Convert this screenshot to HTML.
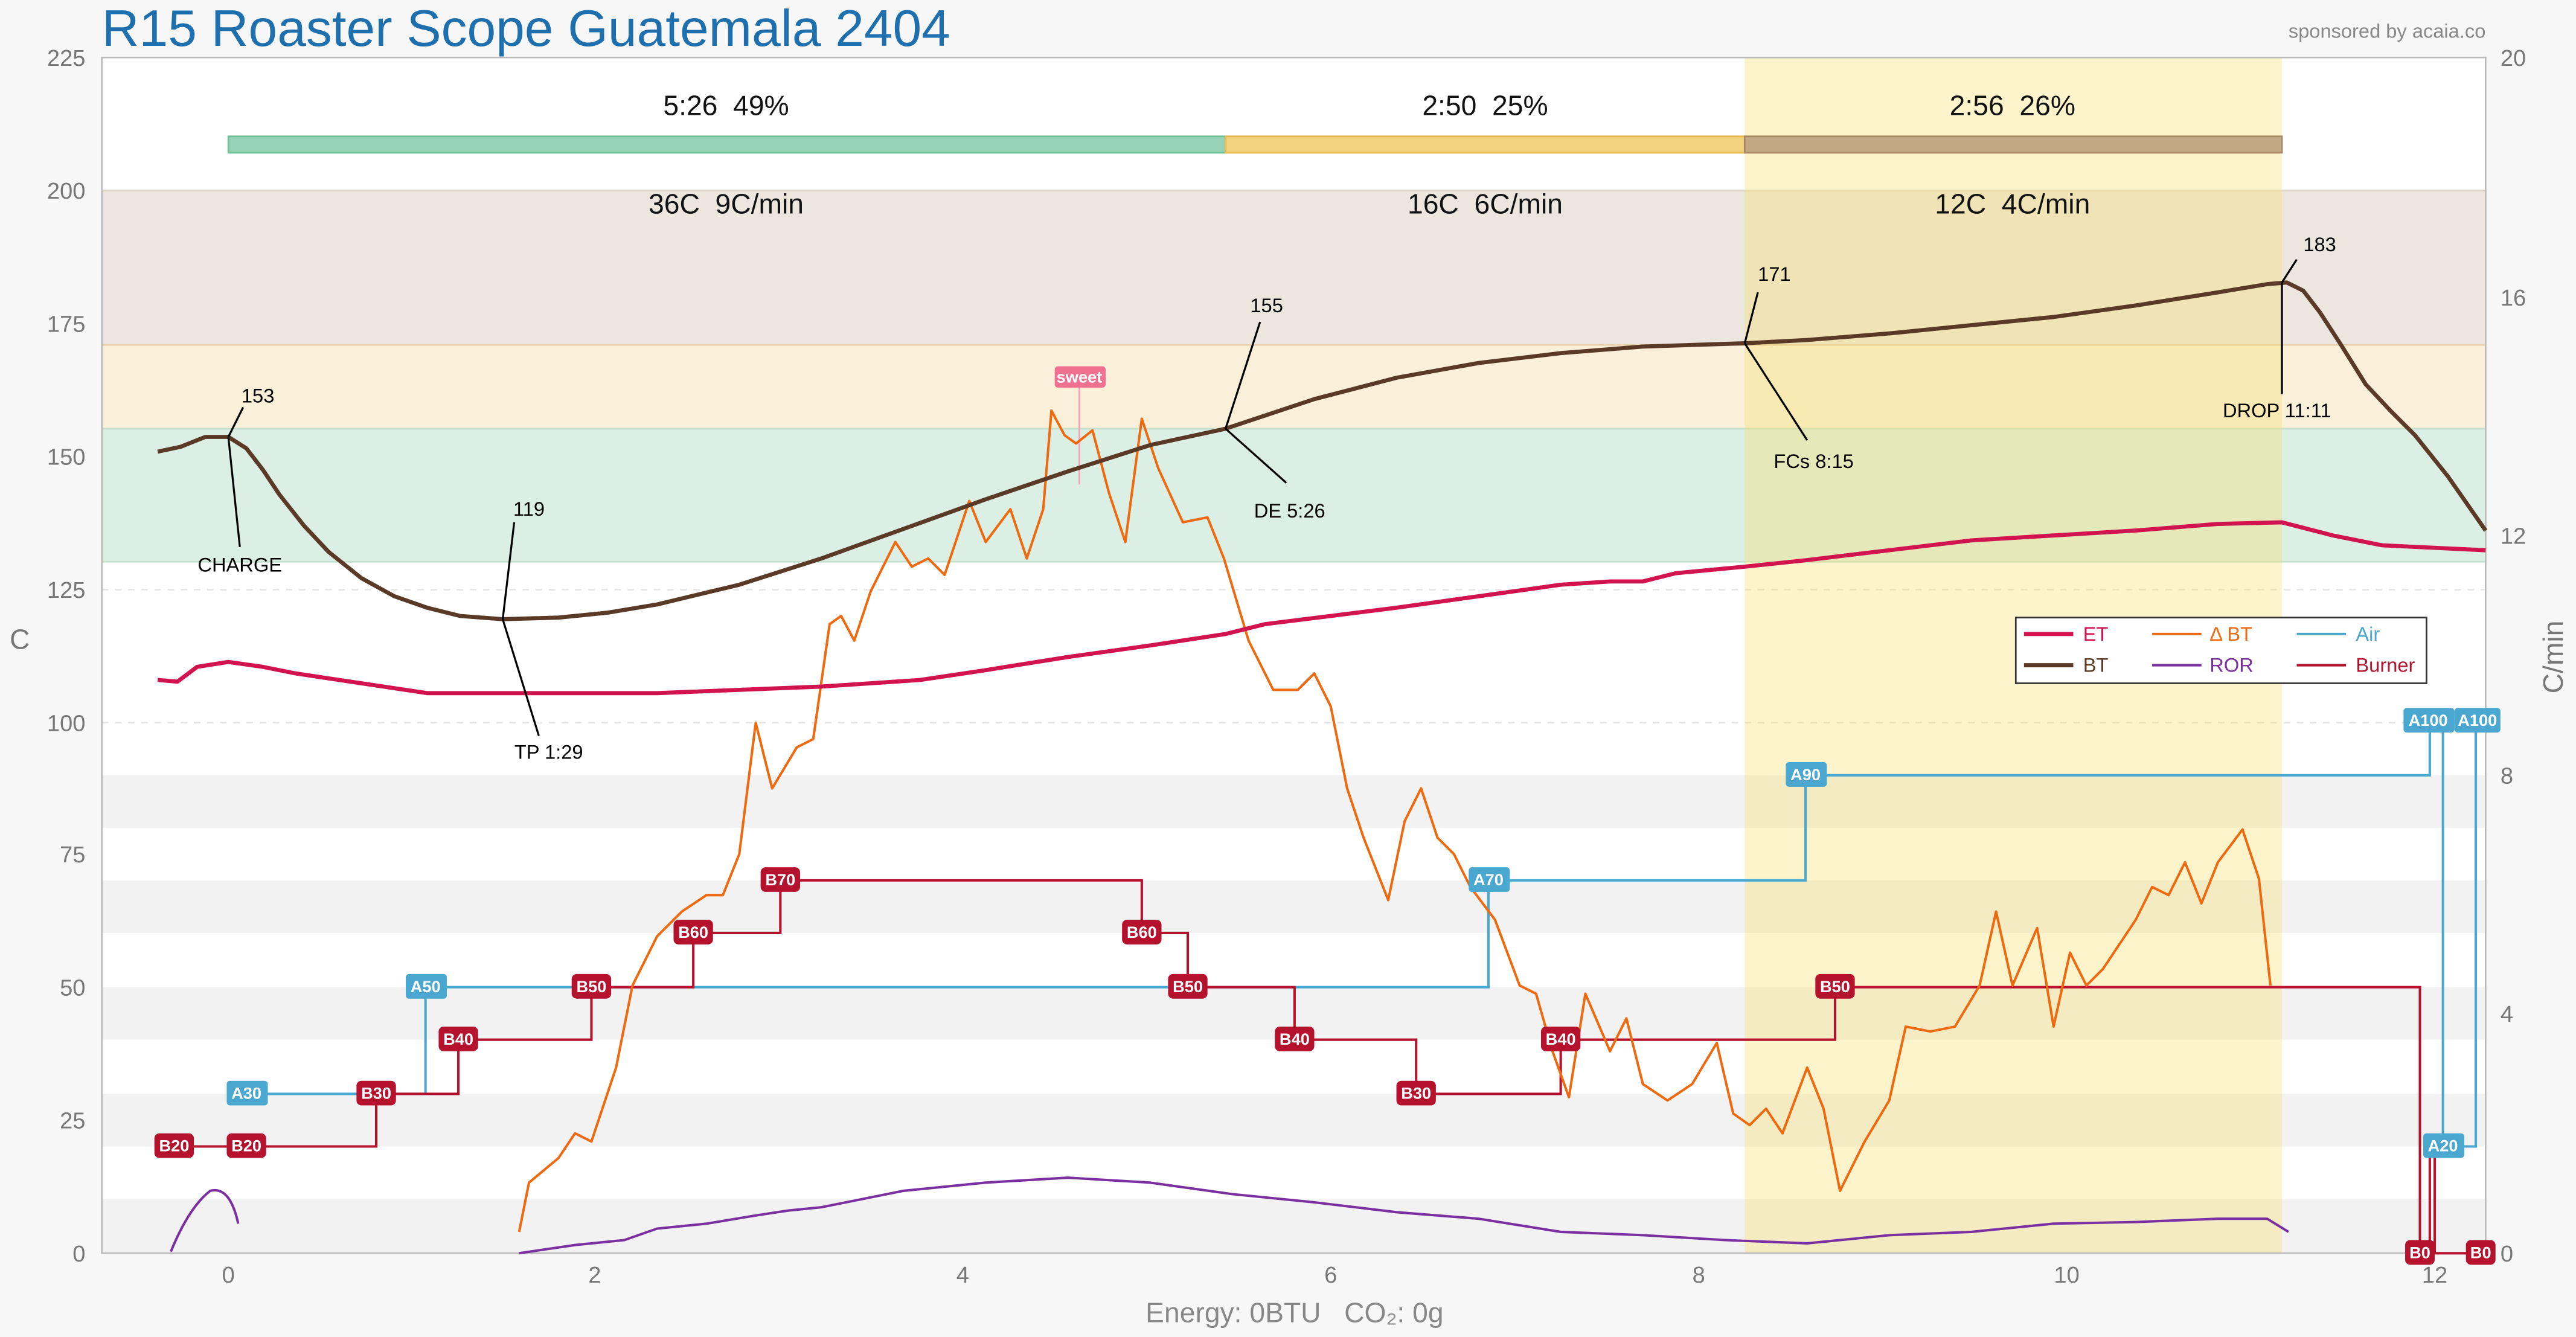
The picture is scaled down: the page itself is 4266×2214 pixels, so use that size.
<!DOCTYPE html>
<html><head><meta charset="utf-8"><style>
html,body{margin:0;padding:0;background:#f7f7f7;}
svg{display:block;font-family:"Liberation Sans",sans-serif;}
</style></head><body>
<svg width="4266" height="2214" viewBox="0 0 1568 814" preserveAspectRatio="none" xmlns="http://www.w3.org/2000/svg">
<rect x="0" y="0" width="1568" height="814" fill="#f7f7f7"/>
<rect x="62" y="35" width="1451" height="728" fill="#fff"/>
<g fill="#f2f2f2">
<rect x="62" y="730" width="1451" height="33"/>
<rect x="62" y="666" width="1451" height="32"/>
<rect x="62" y="601" width="1451" height="32"/>
<rect x="62" y="536" width="1451" height="32"/>
<rect x="62" y="472" width="1451" height="32"/>
</g>
<g stroke="#e6e6e6" stroke-dasharray="4,4" stroke-width="1">
<line x1="62" y1="359" x2="1513" y2="359"/><line x1="62" y1="440" x2="1513" y2="440"/>
</g>
<rect x="62" y="116" width="1451" height="94" fill="#ece6df"/>
<rect x="62" y="210" width="1451" height="51" fill="#faefd9"/>
<rect x="62" y="261" width="1451" height="81" fill="#dcefe4"/>
<line x1="62" y1="116" x2="1513" y2="116" stroke="#d9cfc4"/>
<line x1="62" y1="210" x2="1513" y2="210" stroke="#e6cfa6"/>
<line x1="62" y1="261" x2="1513" y2="261" stroke="#c5e0cf"/>
<line x1="62" y1="342" x2="1513" y2="342" stroke="#c5e0cf"/>
<rect x="1062" y="35" width="327" height="728" fill="rgba(248,222,100,0.33)"/>
<rect x="139" y="83" width="607" height="10" fill="#97d3b4" stroke="#6cbf94"/>
<rect x="746" y="83" width="316" height="10" fill="#f3d27f" stroke="#e3b64f"/>
<rect x="1062" y="83" width="327" height="10" fill="#c4a886" stroke="#a58762"/>
<g font-size="17" fill="#111" text-anchor="middle">
<text x="442" y="70">5:26&#160;&#160;49%</text><text x="904" y="70">2:50&#160;&#160;25%</text><text x="1225" y="70">2:56&#160;&#160;26%</text>
<text x="442" y="130">36C&#160;&#160;9C/min</text><text x="904" y="130">16C&#160;&#160;6C/min</text><text x="1225" y="130">12C&#160;&#160;4C/min</text>
</g>
<rect x="62" y="35" width="1451" height="728" fill="none" stroke="#bbb"/>
<g font-size="14" fill="#777" text-anchor="end">
<text x="52" y="40">225</text><text x="52" y="121">200</text><text x="52" y="202">175</text><text x="52" y="283">150</text><text x="52" y="364">125</text><text x="52" y="445">100</text><text x="52" y="525">75</text><text x="52" y="606">50</text><text x="52" y="687">25</text><text x="52" y="768">0</text>
</g>
<g font-size="14" fill="#777">
<text x="1522" y="40">20</text><text x="1522" y="186">16</text><text x="1522" y="331">12</text><text x="1522" y="477">8</text><text x="1522" y="622">4</text><text x="1522" y="768">0</text>
</g>
<g font-size="14" fill="#777" text-anchor="middle">
<text x="139" y="781">0</text><text x="362" y="781">2</text><text x="586" y="781">4</text><text x="810" y="781">6</text><text x="1034" y="781">8</text><text x="1258" y="781">10</text><text x="1482" y="781">12</text>
</g>
<text x="12" y="395" font-size="17" fill="#777" text-anchor="middle">C</text>
<text x="1560" y="400" font-size="17" fill="#777" text-anchor="middle" transform="rotate(-90 1560 400)">C/min</text>
<text x="788" y="805" font-size="17" fill="#888" text-anchor="middle">Energy: 0BTU&#160;&#160;&#160;CO₂: 0g</text>
<text x="62" y="28" font-size="31.5" fill="#1e6fae">R15 Roaster Scope Guatemala 2404</text>
<text x="1513" y="23" font-size="12" fill="#888" text-anchor="end">sponsored by acaia.co</text>
<line x1="657" y1="236" x2="657" y2="295" stroke="#f4a0b4"/>
<rect x="642" y="223" width="31" height="13" rx="2" fill="#f07090"/>
<text x="657" y="233" font-size="10" font-weight="bold" fill="#fff" text-anchor="middle">sweet</text>
<polyline fill="none" stroke="#4aa8d0" stroke-width="1.5" points="150,666 259,666 259,601 906,601 906,536 1099,536 1099,472 1479,472 1479,439 1487,439 1487,698 1507,698 1507,439 1510,439"/>
<polyline fill="none" stroke="#b5122e" stroke-width="1.5" points="96,698 229,698 229,666 279,666 279,633 360,633 360,601 422,601 422,568 475,568 475,536 695,536 695,568 723,568 723,601 788,601 788,633 862,633 862,666 950,666 950,633 1117,633 1117,601 1473,601 1473,763 1479,763 1479,698 1482,698 1482,763 1510,763"/>
<path fill="none" stroke="#7b2fa0" stroke-width="1.5" d="M104,762 Q115,735 128,725 Q140,722 145,745 M316,763 L350,758 L380,755 L400,748 L430,745 L460,740 L480,737 L500,735 L550,725 L600,720 L650,717 L700,720 L750,727 L800,732 L850,738 L900,742 L950,750 L1000,752 L1050,755 L1100,757 L1150,752 L1200,750 L1250,745 L1300,744 L1350,742 L1380,742 L1393,750"/>
<polyline fill="none" stroke="#ee6a10" stroke-width="1.5" stroke-linejoin="round" points="316,750 322,720 340,705 350,690 360,695 375,650 385,600 400,570 410,560 415,555 430,545 440,545 450,520 460,440 470,480 485,455 495,450 505,380 512,375 520,390 530,360 545,330 555,345 565,340 575,350 585,320 590,305 600,330 615,310 625,340 635,310 640,250 648,265 655,270 665,262 675,300 685,330 695,255 705,285 720,318 735,315 745,340 760,390 775,420 790,420 800,410 810,430 820,480 830,510 845,548 855,500 865,480 875,510 885,520 895,540 910,560 925,600 935,605 945,640 955,668 965,605 980,640 990,620 1000,660 1015,670 1030,660 1045,635 1055,678 1065,685 1075,675 1085,690 1100,650 1110,675 1120,725 1135,695 1150,670 1160,625 1175,628 1190,625 1205,600 1215,555 1225,600 1240,565 1250,625 1260,580 1270,600 1280,590 1300,560 1310,540 1320,545 1330,525 1340,550 1350,525 1365,505 1375,535 1382,600"/>
<polyline fill="none" stroke="#d1134f" stroke-width="2.5" stroke-linejoin="round" points="96,414 108,415 120,406 139,403 160,406 180,410 220,416 260,422 300,422 400,422 500,418 560,414 600,408 650,400 700,393 746,386 770,380 810,375 850,370 900,363 950,356 980,354 1000,354 1020,349 1062,345 1100,341 1150,335 1200,329 1250,326 1300,323 1350,319 1389,318 1420,326 1450,332 1513,335"/>
<polyline fill="none" stroke="#5a3a26" stroke-width="2.5" stroke-linejoin="round" points="96,275 110,272 125,266 139,266 150,273 160,286 170,301 185,320 200,336 220,352 240,363 260,370 280,375 306,377 340,376 370,373 400,368 450,356 500,340 550,322 600,304 650,287 700,271 746,261 800,243 850,230 900,221 950,215 1000,211 1062,209 1100,207 1150,203 1200,198 1250,193 1300,186 1350,178 1380,173 1392,172 1402,177 1412,190 1425,210 1440,234 1455,250 1470,265 1490,290 1513,323"/>
<g stroke="#000" stroke-width="1.2" fill="none">
<line x1="139" y1="266" x2="148" y2="248"/><line x1="139" y1="266" x2="146" y2="333"/>
<line x1="306" y1="377" x2="313" y2="318"/><line x1="306" y1="377" x2="328" y2="448"/>
<line x1="746" y1="261" x2="767" y2="196"/><line x1="746" y1="261" x2="783" y2="294"/>
<line x1="1062" y1="209" x2="1070" y2="178"/><line x1="1062" y1="209" x2="1100" y2="268"/>
<line x1="1389" y1="172" x2="1398" y2="158"/><line x1="1389" y1="172" x2="1389" y2="240"/>
</g>
<g font-size="12" fill="#000" text-anchor="middle">
<text x="157" y="245">153</text><text x="146" y="348">CHARGE</text>
<text x="322" y="314">119</text><text x="334" y="462">TP 1:29</text>
<text x="771" y="190">155</text><text x="785" y="315">DE 5:26</text>
<text x="1080" y="171">171</text><text x="1104" y="285">FCs 8:15</text>
<text x="1412" y="153">183</text><text x="1386" y="254">DROP 11:11</text>
</g>
<g font-size="10" font-weight="bold" fill="#fff" text-anchor="middle">
<g fill="#b5122e">
<rect x="94" y="690" width="24" height="15" rx="3"/><rect x="138" y="690" width="24" height="15" rx="3"/><rect x="217" y="658" width="24" height="15" rx="3"/><rect x="267" y="625" width="24" height="15" rx="3"/><rect x="348" y="593" width="24" height="15" rx="3"/><rect x="410" y="560" width="24" height="15" rx="3"/><rect x="463" y="528" width="24" height="15" rx="3"/><rect x="683" y="560" width="24" height="15" rx="3"/><rect x="711" y="593" width="24" height="15" rx="3"/><rect x="776" y="625" width="24" height="15" rx="3"/><rect x="850" y="658" width="24" height="15" rx="3"/><rect x="938" y="625" width="24" height="15" rx="3"/><rect x="1105" y="593" width="24" height="15" rx="3"/><rect x="1464" y="755" width="18" height="15" rx="3"/><rect x="1501" y="755" width="18" height="15" rx="3"/>
</g>
<text x="106" y="701">B20</text><text x="150" y="701">B20</text><text x="229" y="669">B30</text><text x="279" y="636">B40</text><text x="360" y="604">B50</text><text x="422" y="571">B60</text><text x="475" y="539">B70</text><text x="695" y="571">B60</text><text x="723" y="604">B50</text><text x="788" y="636">B40</text><text x="862" y="669">B30</text><text x="950" y="636">B40</text><text x="1117" y="604">B50</text><text x="1473" y="766">B0</text><text x="1510" y="766">B0</text>
<g fill="#4aa8d0">
<rect x="138" y="658" width="25" height="15" rx="2"/><rect x="247" y="593" width="25" height="15" rx="2"/><rect x="894" y="528" width="25" height="15" rx="2"/><rect x="1087" y="464" width="25" height="15" rx="2"/><rect x="1463" y="431" width="31" height="15" rx="2"/><rect x="1494" y="431" width="28" height="15" rx="2"/><rect x="1475" y="690" width="25" height="15" rx="2"/>
</g>
<text x="150" y="669">A30</text><text x="259" y="604">A50</text><text x="906" y="539">A70</text><text x="1099" y="475">A90</text><text x="1478" y="442">A100</text><text x="1508" y="442">A100</text><text x="1487" y="701">A20</text>
</g>
<rect x="1227" y="376" width="250" height="40" fill="#fff" stroke="#333"/>
<g font-size="12">
<line x1="1232" y1="386" x2="1262" y2="386" stroke="#d1134f" stroke-width="2.5"/><text x="1268" y="390" fill="#d1134f">ET</text>
<line x1="1232" y1="405" x2="1262" y2="405" stroke="#5a3a26" stroke-width="2.5"/><text x="1268" y="409" fill="#5a3a26">BT</text>
<line x1="1310" y1="386" x2="1340" y2="386" stroke="#ee6a10" stroke-width="1.5"/><text x="1345" y="390" fill="#ee6a10">Δ BT</text>
<line x1="1310" y1="405" x2="1340" y2="405" stroke="#7b2fa0" stroke-width="1.5"/><text x="1345" y="409" fill="#7b2fa0">ROR</text>
<line x1="1398" y1="386" x2="1428" y2="386" stroke="#4aa8d0" stroke-width="1.5"/><text x="1434" y="390" fill="#4aa8d0">Air</text>
<line x1="1398" y1="405" x2="1428" y2="405" stroke="#b5122e" stroke-width="1.5"/><text x="1434" y="409" fill="#b5122e">Burner</text>
</g>
</svg>
</body></html>
